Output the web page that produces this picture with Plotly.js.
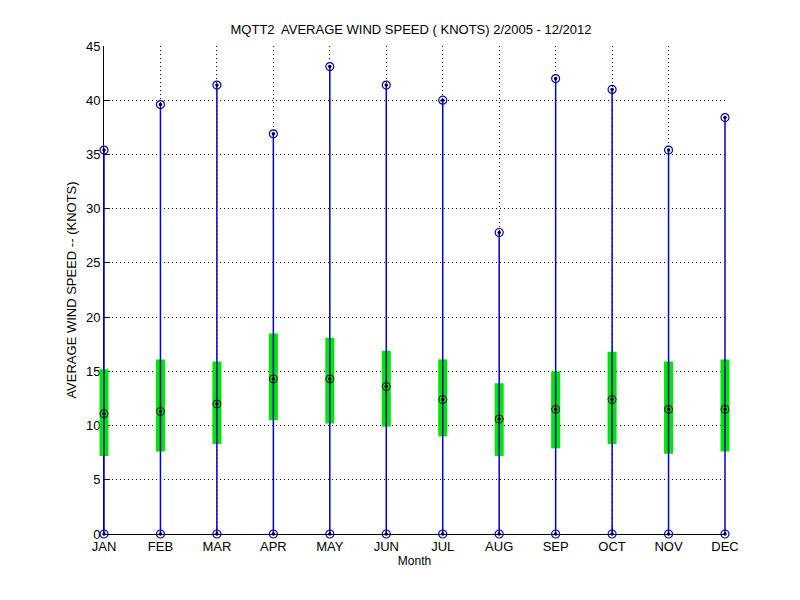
<!DOCTYPE html>
<html>
<head>
<meta charset="utf-8">
<script src="https://cdn.plot.ly/plotly-3.0.1.min.js"></script>
<style>html,body{margin:0;padding:0;background:#fff;}</style>
</head>
<body>
<div id="chart" style="width:800px;height:600px;"></div>
<script>
const months = ['JAN','FEB','MAR','APR','MAY','JUN','JUL','AUG','SEP','OCT','NOV','DEC'];
const monthNum = [1,2,3,4,5,6,7,8,9,10,11,12];
const minSpeed = [0,0,0,0,0,0,0,0,0,0,0,0];
const maxSpeed = [35.4,39.6,41.4,36.9,43.1,41.4,40.0,27.8,42.0,41.0,35.4,38.4];
const q1Speed = [7.2,7.6,8.3,10.5,10.2,9.9,9.0,7.2,7.9,8.3,7.4,7.6];
const q3Speed = [15.2,16.1,15.9,18.5,18.1,16.9,16.1,13.9,15.0,16.8,15.9,16.1];
const medianSpeed = [11.1,11.3,12.0,14.3,14.3,13.6,12.4,10.6,11.5,12.4,11.5,11.5];
const yTicks = [0,5,10,15,20,25,30,35,40,45];

const BLUE = '#0000cc';
const GREEN = '#00e600';

// geometry: visible frame 621px wide; data drawn on a slightly wider hidden axis so edge marks are not clipped
const frameW = 621, pad = 30, mL = 74, mR = 45;
const plotW = frameW + 2 * pad;
const unitPx = frameW / (monthNum.length - 1);
const x2Range = [1 - pad / unitPx, 12 + pad / unitPx];

const boxMid = q1Speed.map((v,i)=> (v + q3Speed[i]) / 2);
const common = {xaxis: 'x2', yaxis: 'y2', type: 'scatter', cliponaxis: false, hoverinfo: 'skip'};
const traces = [
  { // invisible trace that carries the visible axes frame
    x: monthNum, y: medianSpeed, xaxis: 'x', yaxis: 'y', type: 'scatter', mode: 'markers',
    marker: {size: 1, color: 'rgba(0,0,0,0)'}, hoverinfo: 'skip'
  },
  Object.assign({}, common, { // green interquartile boxes
    x: monthNum, y: boxMid, mode: 'markers',
    marker: {size: 0.1, color: 'rgba(0,0,0,0)'},
    error_y: {type: 'data', symmetric: false,
      array: q3Speed.map((v,i)=> v - boxMid[i]),
      arrayminus: q1Speed.map((v,i)=> boxMid[i] - v),
      thickness: 9, width: 0, color: GREEN}
  }),
  Object.assign({}, common, { // blue whisker lines
    x: monthNum, y: minSpeed, mode: 'markers',
    marker: {size: 0.1, color: 'rgba(0,0,0,0)'},
    error_y: {type: 'data', symmetric: false,
      array: maxSpeed.map((v,i)=> v - minSpeed[i]),
      arrayminus: minSpeed.map(()=>0),
      thickness: 1.5, width: 0, color: BLUE}
  }),
  Object.assign({}, common, { // min / max circles
    x: monthNum.concat(monthNum), y: minSpeed.concat(maxSpeed), mode: 'markers',
    marker: {symbol: 'circle-open', size: 8, color: BLUE, line: {width: 1.2, color: BLUE}}
  }),
  Object.assign({}, common, { // median circles
    x: monthNum, y: medianSpeed, mode: 'markers',
    marker: {symbol: 'circle-open', size: 8, color: '#000', line: {width: 1, color: '#000'}}
  }),
  Object.assign({}, common, { // centre dots
    x: monthNum.concat(monthNum, monthNum), y: minSpeed.concat(maxSpeed, medianSpeed), mode: 'markers',
    marker: {symbol: 'circle', size: 3.5, color: '#000', line: {width: 0}}
  })
];

const fontFam = 'Liberation Sans, Arial, Helvetica, sans-serif';
const layout = {
  width: 800, height: 600,
  paper_bgcolor: '#fff', plot_bgcolor: 'rgba(0,0,0,0)',
  margin: {l: mL, r: mR, t: 46, b: 66},
  showlegend: false,
  font: {family: fontFam, size: 13, color: '#000'},
  title: {text: 'MQTT2\u00a0 AVERAGE WIND SPEED ( KNOTS) 2/2005 - 12/2012',
    font: {family: fontFam, size: 13, color: '#000'},
    x: 411/800, xanchor: 'center', y: 1 - 29/600, yanchor: 'middle', xref: 'container', yref: 'container'},
  xaxis: {
    domain: [pad / plotW, (pad + frameW) / plotW], anchor: 'y',
    range: [1, 12], tickmode: 'array', tickvals: monthNum, ticktext: months,
    showline: true, linecolor: '#000', linewidth: 1,
    ticks: 'inside', ticklen: 6, tickcolor: '#000',
    showgrid: true, gridcolor: '#000', griddash: '1px,3px', gridwidth: 1,
    zeroline: false, fixedrange: true,
    tickfont: {family: fontFam, size: 13, color: '#000'},
    title: {text: 'Month', font: {family: fontFam, size: 12, color: '#000'}, standoff: 4}
  },
  yaxis: {
    domain: [0, 1], anchor: 'x',
    range: [0, 45], tickmode: 'array', tickvals: yTicks, ticktext: yTicks.map(String),
    showline: true, linecolor: '#000', linewidth: 1,
    ticks: 'inside', ticklen: 6, tickcolor: '#000',
    showgrid: true, gridcolor: '#000', griddash: '1px,3px', gridwidth: 1,
    zeroline: false, fixedrange: true,
    tickfont: {family: fontFam, size: 13, color: '#000'},
    title: {text: 'AVERAGE WIND SPEED -- (KNOTS)', font: {family: fontFam, size: 13, color: '#000'}, standoff: 6}
  },
  xaxis2: {domain: [0, 1], anchor: 'y2', range: x2Range, visible: false, showgrid: false, zeroline: false, fixedrange: true},
  yaxis2: {domain: [0, 1], anchor: 'x2', range: [0, 45], visible: false, showgrid: false, zeroline: false, fixedrange: true}
};

Plotly.newPlot('chart', traces, layout, {staticPlot: true, displayModeBar: false});
</script>
</body>
</html>
